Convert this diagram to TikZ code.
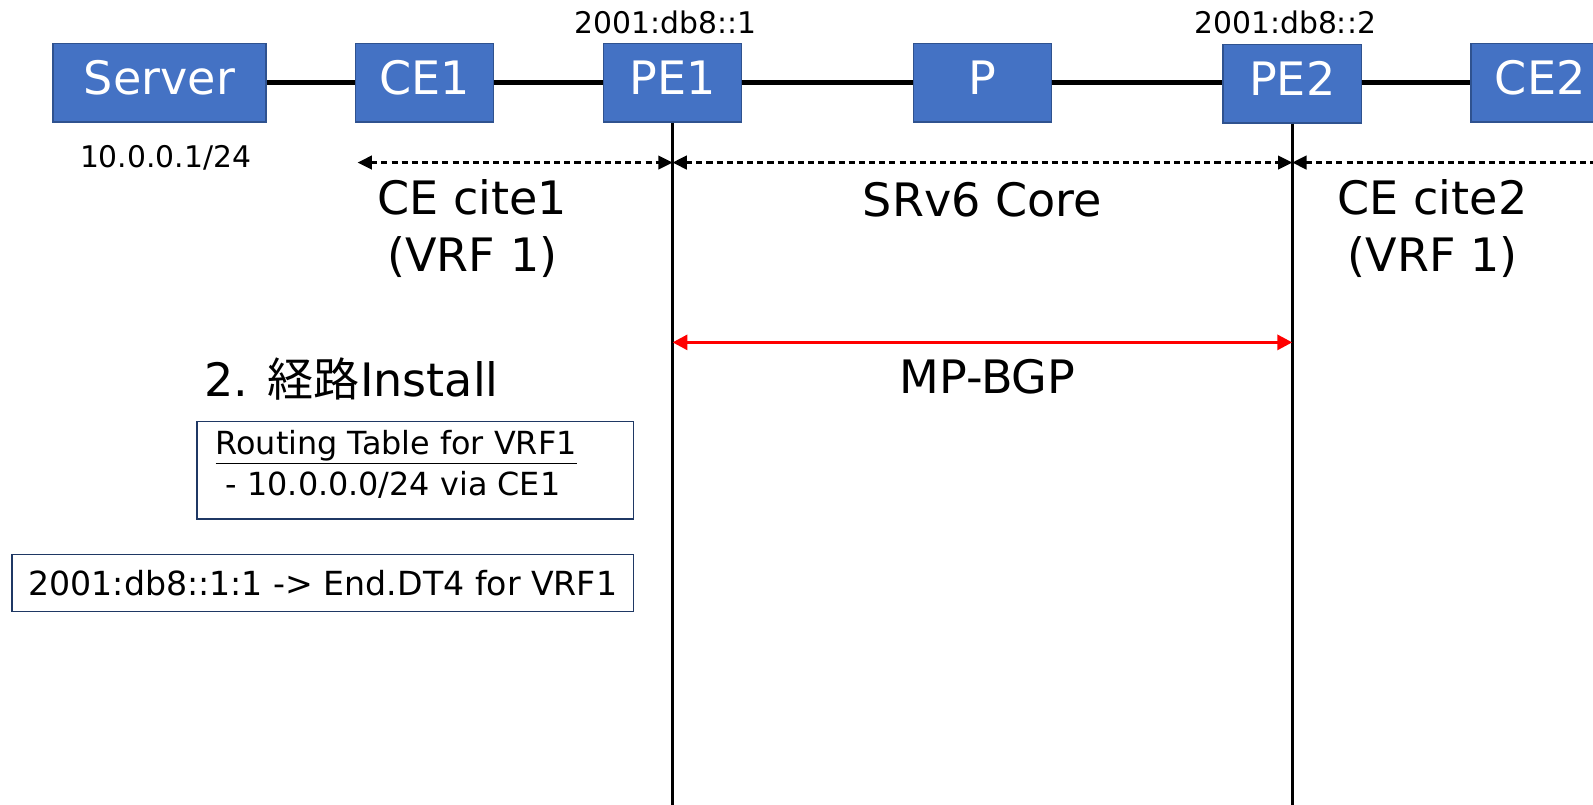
\documentclass[tikz,border=0pt]{standalone}
\usepackage{fontspec}
\setmainfont{DejaVu Sans}
\newfontfamily\cjk{Noto Sans CJK JP}
\usetikzlibrary{arrows.meta}
\definecolor{boxfill}{HTML}{4472C4}
\definecolor{boxline}{HTML}{2F528F}
\definecolor{tblline}{HTML}{1F3864}
\definecolor{pured}{HTML}{FF0000}
\tikzset{
  dev/.style={draw=boxline, line width=1.1pt, fill=boxfill, text=white,
    minimum width=102pt, minimum height=57.75pt, inner sep=0pt, text depth=8pt,
    font=\fontsize{34}{40}\selectfont},
  link/.style={line width=3.4pt},
  vline/.style={line width=2.5pt},
  big/.style={font=\fontsize{34}{42}\selectfont, inner sep=0pt, align=center},
  small/.style={font=\fontsize{22}{26}\selectfont, inner sep=0pt},
  tsmall/.style={font=\fontsize{23.5}{28}\selectfont, inner sep=0pt},
  dashar/.style={line width=1.8pt, dash pattern=on 4.5pt off 3pt},
  redar/.style={line width=2.4pt, draw=pured, fill=pured},
  tbl/.style={draw=tblline, line width=1.1pt, inner sep=0pt, fill=white}
}
\begin{document}
\begin{tikzpicture}[x=0.75pt,y=-0.75pt,
  >={Triangle[length=10.5pt,width=10pt]}]
\useasboundingbox (0,0) rectangle (1568,792);
\clip (0,0) rectangle (1568,792);
% devices
\node[dev, minimum width=157.5pt] (srv) at (157,81.5) {Server};
\node[dev] (ce1) at (418,81.5) {CE1};
\node[dev] (pe1) at (662,81.5) {PE1};
\node[dev] (p) at (967,81.5) {P};
\node[dev] (pe2) at (1272,82.5) {PE2};
\node[dev] (ce2) at (1516,81.5) {CE2};
% links
\draw[link] (srv.east) -- (ce1.west);
\draw[link] (ce1.east) -- (pe1.west);
\draw[link] (pe1.east) -- (p.west);
\draw[link] (p.east) -- (p.east -| pe2.west);
\draw[link] (ce2.west -| pe2.east) -- (ce2.west);
% vertical lines
\coordinate (pe1b) at (662,800);
\coordinate (pe2b) at (1272,800);
\draw[vline] (pe1.south) -- (pe1b);
\draw[vline] (pe2.south) -- (pe2b);
% addresses
\node[small] (a1) at (655,22) {2001:db8::1};
\node[small] (a2) at (1265,22) {2001:db8::2};
\node[small] (a0) at (163,155) {10.0.0.1/24};
% dashed arrows
\coordinate (d0) at (352,160);
\coordinate (d1) at (662,160);
\coordinate (d2) at (1272,160);
\coordinate (d3) at (1600,160);
\draw[dashar, <->] (d0) -- (d1);
\draw[dashar, <->] (d1) -- (d2);
\draw[dashar, <-] (d2) -- (d3);
% region labels
\node[big] (s1) at (465,225) {CE cite1\\(VRF 1)};
\node[big] (s2) at (967,197) {SRv6 Core};
\node[big] (s3) at (1410,225) {CE cite2\\(VRF 1)};
% MP-BGP
\coordinate (m1) at (662,337);
\coordinate (m2) at (1272,337);
\draw[redar, {Triangle[length=11pt,width=11pt]}-{Triangle[length=11pt,width=11pt]}] (m1) -- (m2);
\node[big] (mp) at (972,371) {MP-BGP};
% install
\node[big, anchor=west] (inst) at (201,373) {2. {\cjk 経路}Install};
\node[tbl, minimum width=322.5pt, minimum height=72pt, anchor=north west] (rt) at (193,414) {};
\node[tsmall, anchor=west] (rt1) at (212,440) {\underline{Routing Table for VRF1}};
\node[tsmall, anchor=west] (rt2) at (222,477) {- 10.0.0.0/24 via CE1};
\node[tbl, minimum width=459pt, minimum height=42pt, anchor=north west, font=\fontsize{24.5}{28}\selectfont] (sid) at (11,545) {2001:db8::1:1 -> End.DT4 for VRF1};
\end{tikzpicture}
\end{document}
